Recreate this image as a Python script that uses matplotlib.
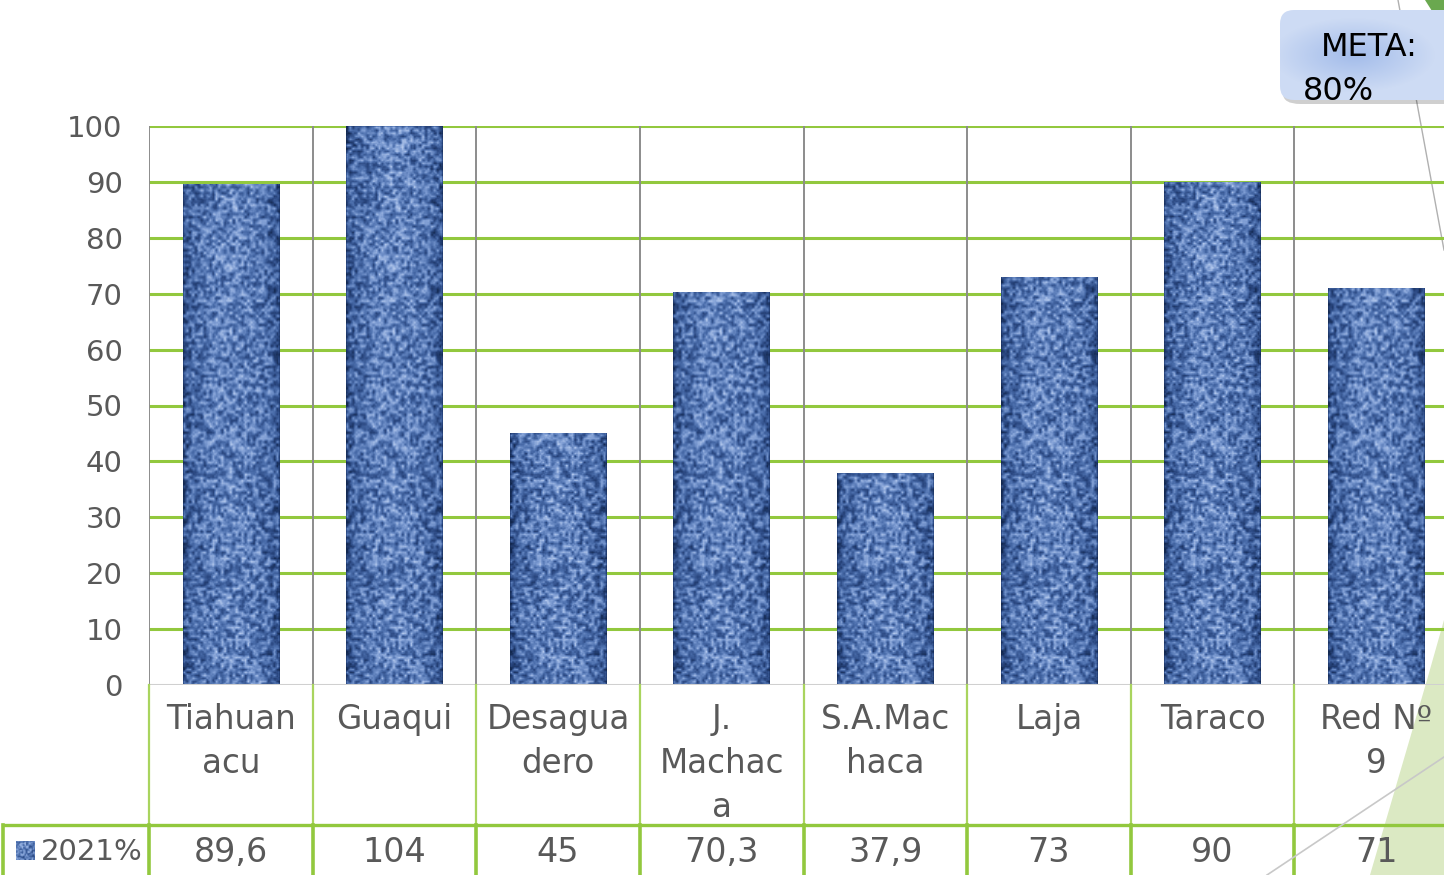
import numpy as np
import matplotlib
matplotlib.use("Agg")
import matplotlib.pyplot as plt
from matplotlib.colors import LinearSegmentedColormap
from matplotlib.patches import FancyBboxPatch, Polygon

categories = ["Tiahuan\nacu", "Guaqui", "Desagua\ndero", "J.\nMachac\na",
              "S.A.Mac\nhaca", "Laja", "Taraco", "Red Nº\n9"]
values = [89.6, 104, 45, 70.3, 37.9, 73, 90, 71]
value_labels = ["89,6", "104", "45", "70,3", "37,9", "73", "90", "71"]
series_name = "2021%"
yticks = list(range(0, 101, 10))

W, H = 1444, 875
fig = plt.figure(figsize=(W / 100, H / 100), dpi=100)
plt.rcParams['font.family'] = ['DejaVu Sans']

def fx(px):
    return px / W

def fy(py):
    return 1 - py / H

GREEN = "#92c83e"
GRAY = "#8c8c8c"
TXT = "#595959"

# background decorations (behind everything)
fig.patches.append(Polygon([[fx(1444), fy(620)], [fx(1427), fy(680)], [fx(1370), fy(875)], [fx(1444), fy(875)]],
                           closed=True, transform=fig.transFigure, facecolor="#dbe9c3", edgecolor="none", zorder=-5))
fig.patches.append(Polygon([[fx(1425), fy(0)], [fx(1444), fy(0)], [fx(1444), fy(30)]],
                           closed=True, transform=fig.transFigure, facecolor="#6aa84f", edgecolor="none", zorder=-5))
fig.add_artist(plt.Line2D([fx(1398), fx(1444)], [fy(0), fy(250)], transform=fig.transFigure,
                          color="#b0b0b0", lw=1.0, zorder=-4))

ax = fig.add_axes([fx(149), 1 - 685 / H, (1458 - 149) / W, (685 - 126) / H], zorder=1)
ax.set_facecolor("none")
n = len(categories)
ax.set_xlim(-0.5, n - 0.5)
ax.set_ylim(0, 100)

# grid
for yv in yticks[1:]:
    ax.axhline(yv, color=GREEN, lw=2.2, zorder=1)
for i in range(n + 1):
    ax.axvline(i - 0.5, color=GRAY, lw=1.4, zorder=1)
ax.axhline(0, color="#d0d0d0", lw=2.2, zorder=3)
for s in ax.spines.values():
    s.set_visible(False)
ax.set_xticks([])
ax.set_yticks(yticks)
ax.set_yticklabels([str(t) for t in yticks], fontsize=21, color=TXT)
ax.tick_params(axis='y', length=0, pad=19)

# textile-like texture (style only, deterministic)
ny, nx = 560, 100
X, Y = np.meshgrid(np.arange(nx), np.arange(ny))
cx, cy = X // 3, Y // 3
h = np.sin(cx * 12.9898 + cy * 78.233) * 43758.5453
noise = h - np.floor(h)
h2 = np.sin((X // 2) * 39.3468 + (Y // 2) * 11.135) * 24634.6345
noise2 = h2 - np.floor(h2)
k = np.ones(3) / 3
noise = np.apply_along_axis(lambda r: np.convolve(r, k, mode='same'), 1, noise)
noise = np.apply_along_axis(lambda c: np.convolve(c, k, mode='same'), 0, noise)
xx = np.linspace(-1, 1, nx)
shade = np.sqrt(np.clip(1 - (xx * 0.98) ** 2, 0, 1))[None, :]
tex = 0.05 + 0.35 * shade + 0.45 * (noise - 0.5) * 1.6 + 0.12 * (noise2 - 0.5) + 0.2
tex = np.clip(tex, 0, 1)
cmap = LinearSegmentedColormap.from_list("tex", ["#13284f", "#29467f", "#4a6dab", "#7c9bd2", "#b9cdef"])

bw = 0.59
bars = ax.bar(range(n), values, width=bw, color="#4a6aa5", zorder=2)
for i, b in enumerate(bars):
    im = ax.imshow(tex, extent=(i - bw / 2, i + bw / 2, 0, 100), cmap=cmap, vmin=0, vmax=1,
                   aspect='auto', zorder=2.5, interpolation='bilinear')
    im.set_clip_path(b)

# table
xt = ax.get_xaxis_transform()
row1 = -(825 - 685) / 559
row2 = -(875 - 685) / 559
for i in range(n + 1):
    ax.plot([i - 0.5, i - 0.5], [0, row1], transform=xt, color="#a9d45e", lw=1.6, clip_on=False, zorder=4)
    ax.plot([i - 0.5, i - 0.5], [row1, row2], transform=xt, color=GREEN, lw=2.6, clip_on=False, zorder=4)
fig.add_artist(plt.Line2D([fx(3), fx(1444)], [fy(825), fy(825)], transform=fig.transFigure, color=GREEN, lw=2.4, zorder=4))
fig.add_artist(plt.Line2D([fx(3), fx(3)], [fy(825), fy(875)], transform=fig.transFigure, color=GREEN, lw=2.6, zorder=4))

for i, (c, v) in enumerate(zip(categories, value_labels)):
    ax.text(i, -(703 - 685) / 559, c, transform=xt, ha='center', va='top', fontsize=23.5,
            color=TXT, linespacing=1.42, clip_on=False)
    ax.text(i, -(852 - 685) / 559, v, transform=xt, ha='center', va='center', fontsize=24,
            color=TXT, clip_on=False)

# legend key
kax = fig.add_axes([fx(16), fy(860), fx(19), (860 - 841) / H])
kax.imshow(tex[200:240, 30:70], cmap=cmap, vmin=0, vmax=1, aspect='auto')
kax.axis('off')
fig.text(fx(41), fy(852), series_name, ha='left', va='center', fontsize=21, color=TXT)

# diagonal decorative line over table
fig.add_artist(plt.Line2D([fx(1267), fx(1444)], [fy(875), fy(757)], transform=fig.transFigure,
                          color="#c8c8c8", lw=1.2, zorder=5))

# META box
shadow = FancyBboxPatch((fx(1283), fy(104)), fx(200), (104 - 14) / H, boxstyle="round,pad=0,rounding_size=0.012",
                        transform=fig.transFigure, facecolor="#00000030", edgecolor="none", zorder=6)
fig.patches.append(shadow)
gax = fig.add_axes([fx(1280), fy(100), fx(164), (100 - 10) / H], zorder=8)
gax.set_facecolor("none")
gx = np.linspace(-1, 1, 164)
gy = np.linspace(-1, 1, 90)
GX, GY = np.meshgrid(gx, gy)
rad = np.clip(np.sqrt(((GX + 0.1) * 1.0) ** 2 + (GY * 1.2) ** 2), 0, 1)
gcm = LinearSegmentedColormap.from_list("g", ["#a3bcea", "#cddbf4"])
gim = gax.imshow(rad, cmap=gcm, vmin=0, vmax=1, aspect='auto', extent=(1280, 1444, 100, 10), zorder=1)
gax.set_xlim(1280, 1444)
gax.set_ylim(100, 10)
gax.axis('off')
clipbox = FancyBboxPatch((1280, 10), 200, 90, boxstyle="round,pad=0,rounding_size=14",
                         transform=gax.transData, facecolor="none", edgecolor="none")
gax.add_patch(clipbox)
gim.set_clip_path(clipbox)
gax.text(1369, 47, "META:", ha='center', va='center', fontsize=23, color="black", zorder=3)
gax.text(1303, 92, "80%", ha='left', va='center', fontsize=23, color="black", clip_on=False, zorder=3)

fig.savefig("out.png", dpi=100)
